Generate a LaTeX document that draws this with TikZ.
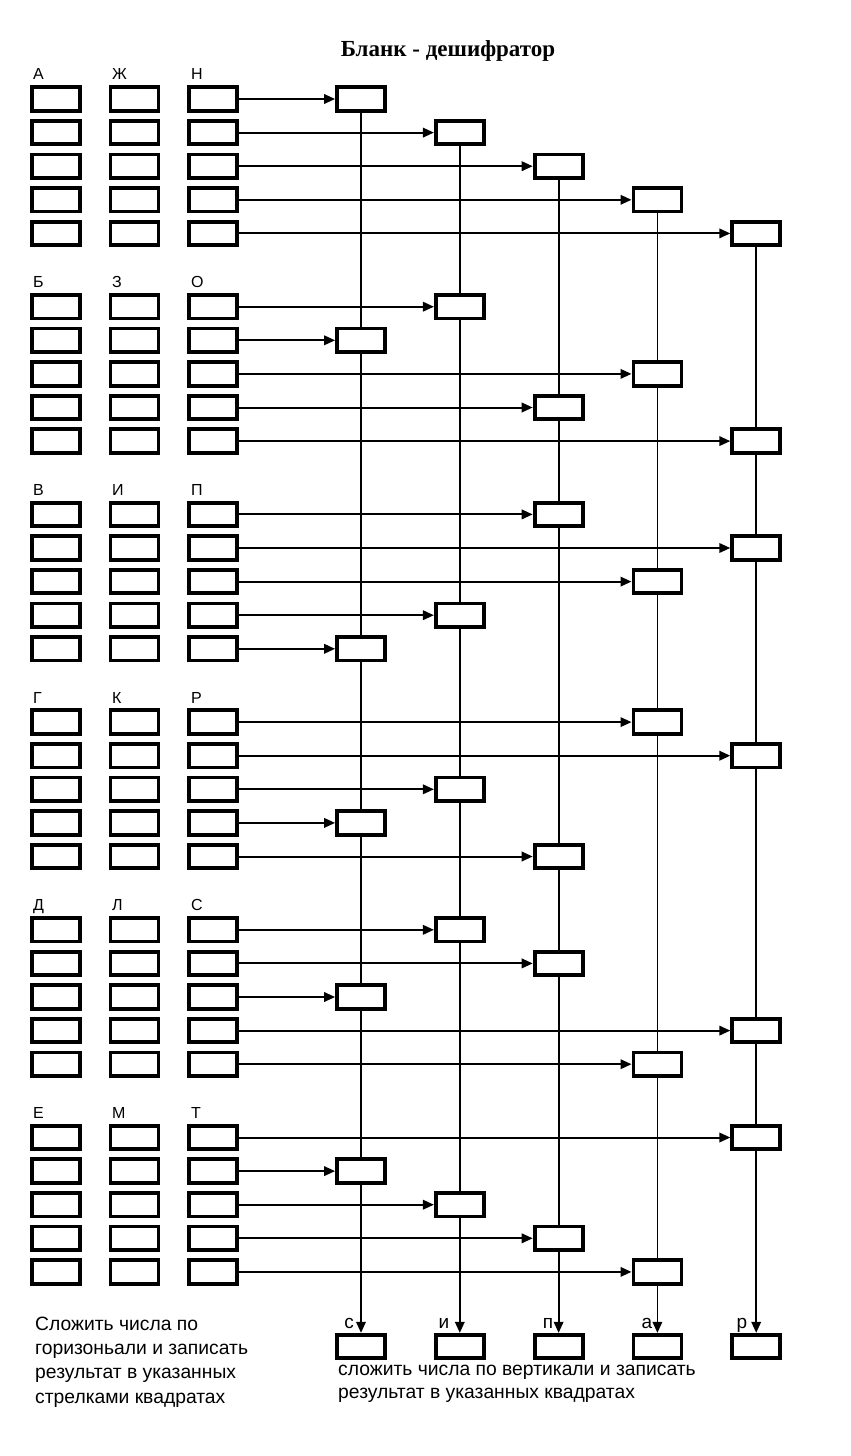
\documentclass[tikz,border=0pt]{standalone}
\usepackage{fontspec}
\setmainfont{Liberation Sans}
\newfontfamily\titlefont{Liberation Serif}
\usetikzlibrary{arrows.meta,backgrounds}
\begin{document}
\begin{tikzpicture}[x=1bp,y=-1bp,
  cell/.style={draw, line width=3.8bp, minimum width=48bp, minimum height=23.5bp, inner sep=0pt, fill=white},
  conn/.style={line width=2bp, -{Triangle[length=11bp,width=9.5bp]}},
  vline/.style={line width=1.8bp},
  vlast/.style={line width=1.8bp, -{Triangle[length=11bp,width=9.5bp]}},
  letter/.style={font=\fontsize{16bp}{16bp}\selectfont, anchor=base west, inner sep=0pt},
  collab/.style={font=\fontsize{19bp}{19bp}\selectfont, anchor=base, inner sep=0pt},
  note/.style={align=left, anchor=base west, inner sep=0pt},
]
\useasboundingbox (0,0) rectangle (850,1456);

\node[font={\titlefont\bfseries\fontsize{23bp}{23bp}\selectfont}, anchor=base, inner sep=0pt] (title) at (448,56.5) {Бланк - дешифратор};

% left blocks
\foreach \g/\la/\lb/\lc in {1/А/Ж/Н, 2/Б/З/О, 3/В/И/П, 4/Г/К/Р, 5/Д/Л/С, 6/Е/М/Т}{
  \pgfmathsetmacro\yt{99+207.7*(\g-1)}
  \node[letter] (lab-\g-1) at (33,\yt-19) {\la};
  \node[letter] (lab-\g-2) at (112,\yt-19) {\lb};
  \node[letter] (lab-\g-3) at (191,\yt-19) {\lc};
  \foreach \r in {1,...,5}{
    \pgfmathsetmacro\y{\yt+33.6*(\r-1)}
    \node[cell] (L-\g-\r-1) at (56,\y) {};
    \node[cell] (L-\g-\r-2) at (134.5,\y) {};
    \node[cell] (L-\g-\r-3) at (213,\y) {};
  }
}

% right boxes with horizontal arrows
\foreach \g/\r/\c in {1/1/1,1/2/2,1/3/3,1/4/4,1/5/5,
                      2/1/2,2/2/1,2/3/4,2/4/3,2/5/5,
                      3/1/3,3/2/5,3/3/4,3/4/2,3/5/1,
                      4/1/4,4/2/5,4/3/2,4/4/1,4/5/3,
                      5/1/2,5/2/3,5/3/1,5/4/5,5/5/4,
                      6/1/5,6/2/1,6/3/2,6/4/3,6/5/4}{
  \pgfmathsetmacro\y{99+207.7*(\g-1)+33.6*(\r-1)}
  \pgfmathsetmacro\x{361+98.8*(\c-1)}
  \node[cell] (R-\g-\r) at (\x,\y) {};
  \draw[conn] (L-\g-\r-3.east) -- (R-\g-\r.west);
}

% bottom result boxes and labels
\foreach \c/\t/\lx in {1/с/349,2/и/444,3/п/548,4/а/647,5/р/742}{
  \node[cell] (B-\c) at ({361+98.8*(\c-1)},1346.5) {};
  \node[collab] (BL-\c) at (\lx,1328) {\t};
}

% vertical connectors (behind the boxes)
\begin{pgfonlayer}{background}
\fill[white] (0,0) rectangle (850,1456);
\foreach \a/\b in {R-1-1/R-2-2, R-2-2/R-3-5, R-3-5/R-4-4, R-4-4/R-5-3, R-5-3/R-6-2,
                   R-1-2/R-2-1, R-2-1/R-3-4, R-3-4/R-4-3, R-4-3/R-5-1, R-5-1/R-6-3,
                   R-1-3/R-2-4, R-2-4/R-3-1, R-3-1/R-4-5, R-4-5/R-5-2, R-5-2/R-6-4,
                   R-1-4/R-2-3, R-2-3/R-3-3, R-3-3/R-4-1, R-4-1/R-5-5, R-5-5/R-6-5,
                   R-1-5/R-2-5, R-2-5/R-3-2, R-3-2/R-4-2, R-4-2/R-5-4, R-5-4/R-6-1}{
  \draw[vline] (\a.south) -- (\b.north);
}
\end{pgfonlayer}
\foreach \a/\b in {R-6-2/B-1, R-6-3/B-2, R-6-4/B-3, R-6-5/B-4, R-6-1/B-5}{
  \draw[vlast] (\a.south) -- (\b.north);
}

% notes (base anchor = baseline of the last line)
\node[note, font=\fontsize{19.3bp}{24.3bp}\selectfont] (note-h) at (35,1403)
  {Сложить числа по\\горизоньали и записать\\результат в указанных\\стрелками квадратах};
\node[note, font=\fontsize{19.3bp}{23.5bp}\selectfont] (note-v) at (338,1398.5)
  {сложить числа по вертикали и записать\\результат в указанных квадратах};
\end{tikzpicture}
\end{document}
